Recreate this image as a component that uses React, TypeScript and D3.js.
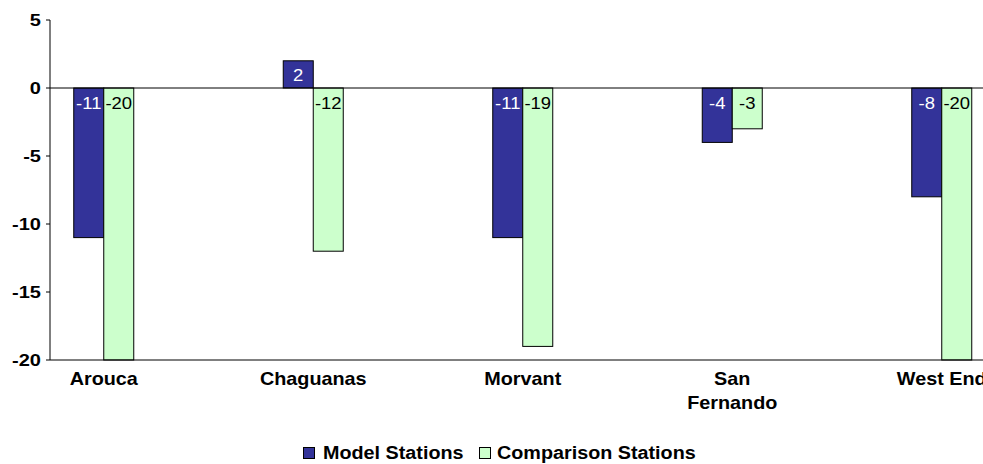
import React from "react";
import * as d3 from "d3";

const categories = ["Arouca", "Chaguanas", "Morvant", "San Fernando", "West End"];
const categoryLines = [["Arouca"], ["Chaguanas"], ["Morvant"], ["San", "Fernando"], ["West End"]];
const modelValues = [-11, 2, -11, -4, -8];
const comparisonValues = [-20, -12, -19, -3, -20];
const yTicks = [5, 0, -5, -10, -15, -20];
const seriesNames = ["Model Stations", "Comparison Stations"];
const seriesColors = ["#333399", "#CCFFCC"];
const labelColors = ["#ffffff", "#000000"];

const font = "'Liberation Sans', Arial, sans-serif";

function ST(props: { x: number; y: number; sx: number; size: number; bold?: boolean; anchor?: string; fill?: string; children: React.ReactNode }) {
  const { x, y, sx, size, bold, anchor, fill, children } = props;
  return (
    <text
      transform={`translate(${x},${y}) scale(${sx},1)`}
      fontSize={size}
      fontWeight={bold ? "bold" : "normal"}
      textAnchor={anchor || "start"}
      fill={fill || "#000"}
      fontFamily={font}
    >
      {children}
    </text>
  );
}

export default function App() {
  const W = 983, H = 464;
  const axisX = 50;
  const y = d3.scaleLinear().domain([-20, 5]).range([360, 20]);
  const x = d3.scaleBand<string>().domain(categories).range([-1, 1046.5]);
  const barW = 30;
  const series = [modelValues, comparisonValues];

  return (
    <svg width={W} height={H} style={{ position: "absolute", left: 0, top: 0, background: "#fff" }} fontFamily={font}>
      {categories.map((c, i) => {
        const cx = (x(c) as number) + x.bandwidth() / 2;
        return series.map((vals, s) => {
          const v = vals[i];
          const x0 = cx - barW + s * barW;
          const yTop = y(Math.max(0, v));
          const yBot = y(Math.min(0, v));
          const ly = v >= 0 ? (yTop + yBot) / 2 + 6.5 : yTop + 21;
          return (
            <g key={c + s}>
              <rect x={x0} y={yTop} width={barW} height={yBot - yTop} fill={seriesColors[s]} stroke="#000" strokeWidth={1} />
              <ST x={x0 + barW / 2} y={ly} sx={1.12} size={16.5} anchor="middle" fill={labelColors[s]}>{v}</ST>
            </g>
          );
        });
      })}
      <line x1={axisX} x2={W} y1={y(0)} y2={y(0)} stroke="#000" strokeWidth={1} />
      <line x1={axisX} x2={W} y1={y(-20)} y2={y(-20)} stroke="#000" strokeWidth={1} />
      <line x1={axisX} x2={axisX} y1={y(5)} y2={y(-20)} stroke="#000" strokeWidth={1} />
      {yTicks.map((t) => (
        <g key={t}>
          <line x1={axisX - 4} x2={axisX} y1={y(t)} y2={y(t)} stroke="#000" />
          <ST x={axisX - 9} y={y(t) + 6} sx={1.25} size={16} bold anchor="end">{t}</ST>
        </g>
      ))}
      {categories.map((c, i) => {
        const cx = (x(c) as number) + x.bandwidth() / 2;
        return (
          <g key={c}>
            {categoryLines[i].map((l, k) => (
              <ST key={k} x={cx} y={385 + k * 24} sx={1.1} size={18} bold anchor="middle">{l}</ST>
            ))}
          </g>
        );
      })}
      <g>
        <rect x={303.5} y={447.5} width={11} height={11} fill={seriesColors[0]} stroke="#000" />
        <ST x={323} y={459} sx={1.13} size={17.5} bold>{seriesNames[0]}</ST>
        <rect x={479.5} y={447.5} width={11} height={11} fill={seriesColors[1]} stroke="#000" />
        <ST x={497} y={459} sx={1.13} size={17.5} bold>{seriesNames[1]}</ST>
      </g>
    </svg>
  );
}
